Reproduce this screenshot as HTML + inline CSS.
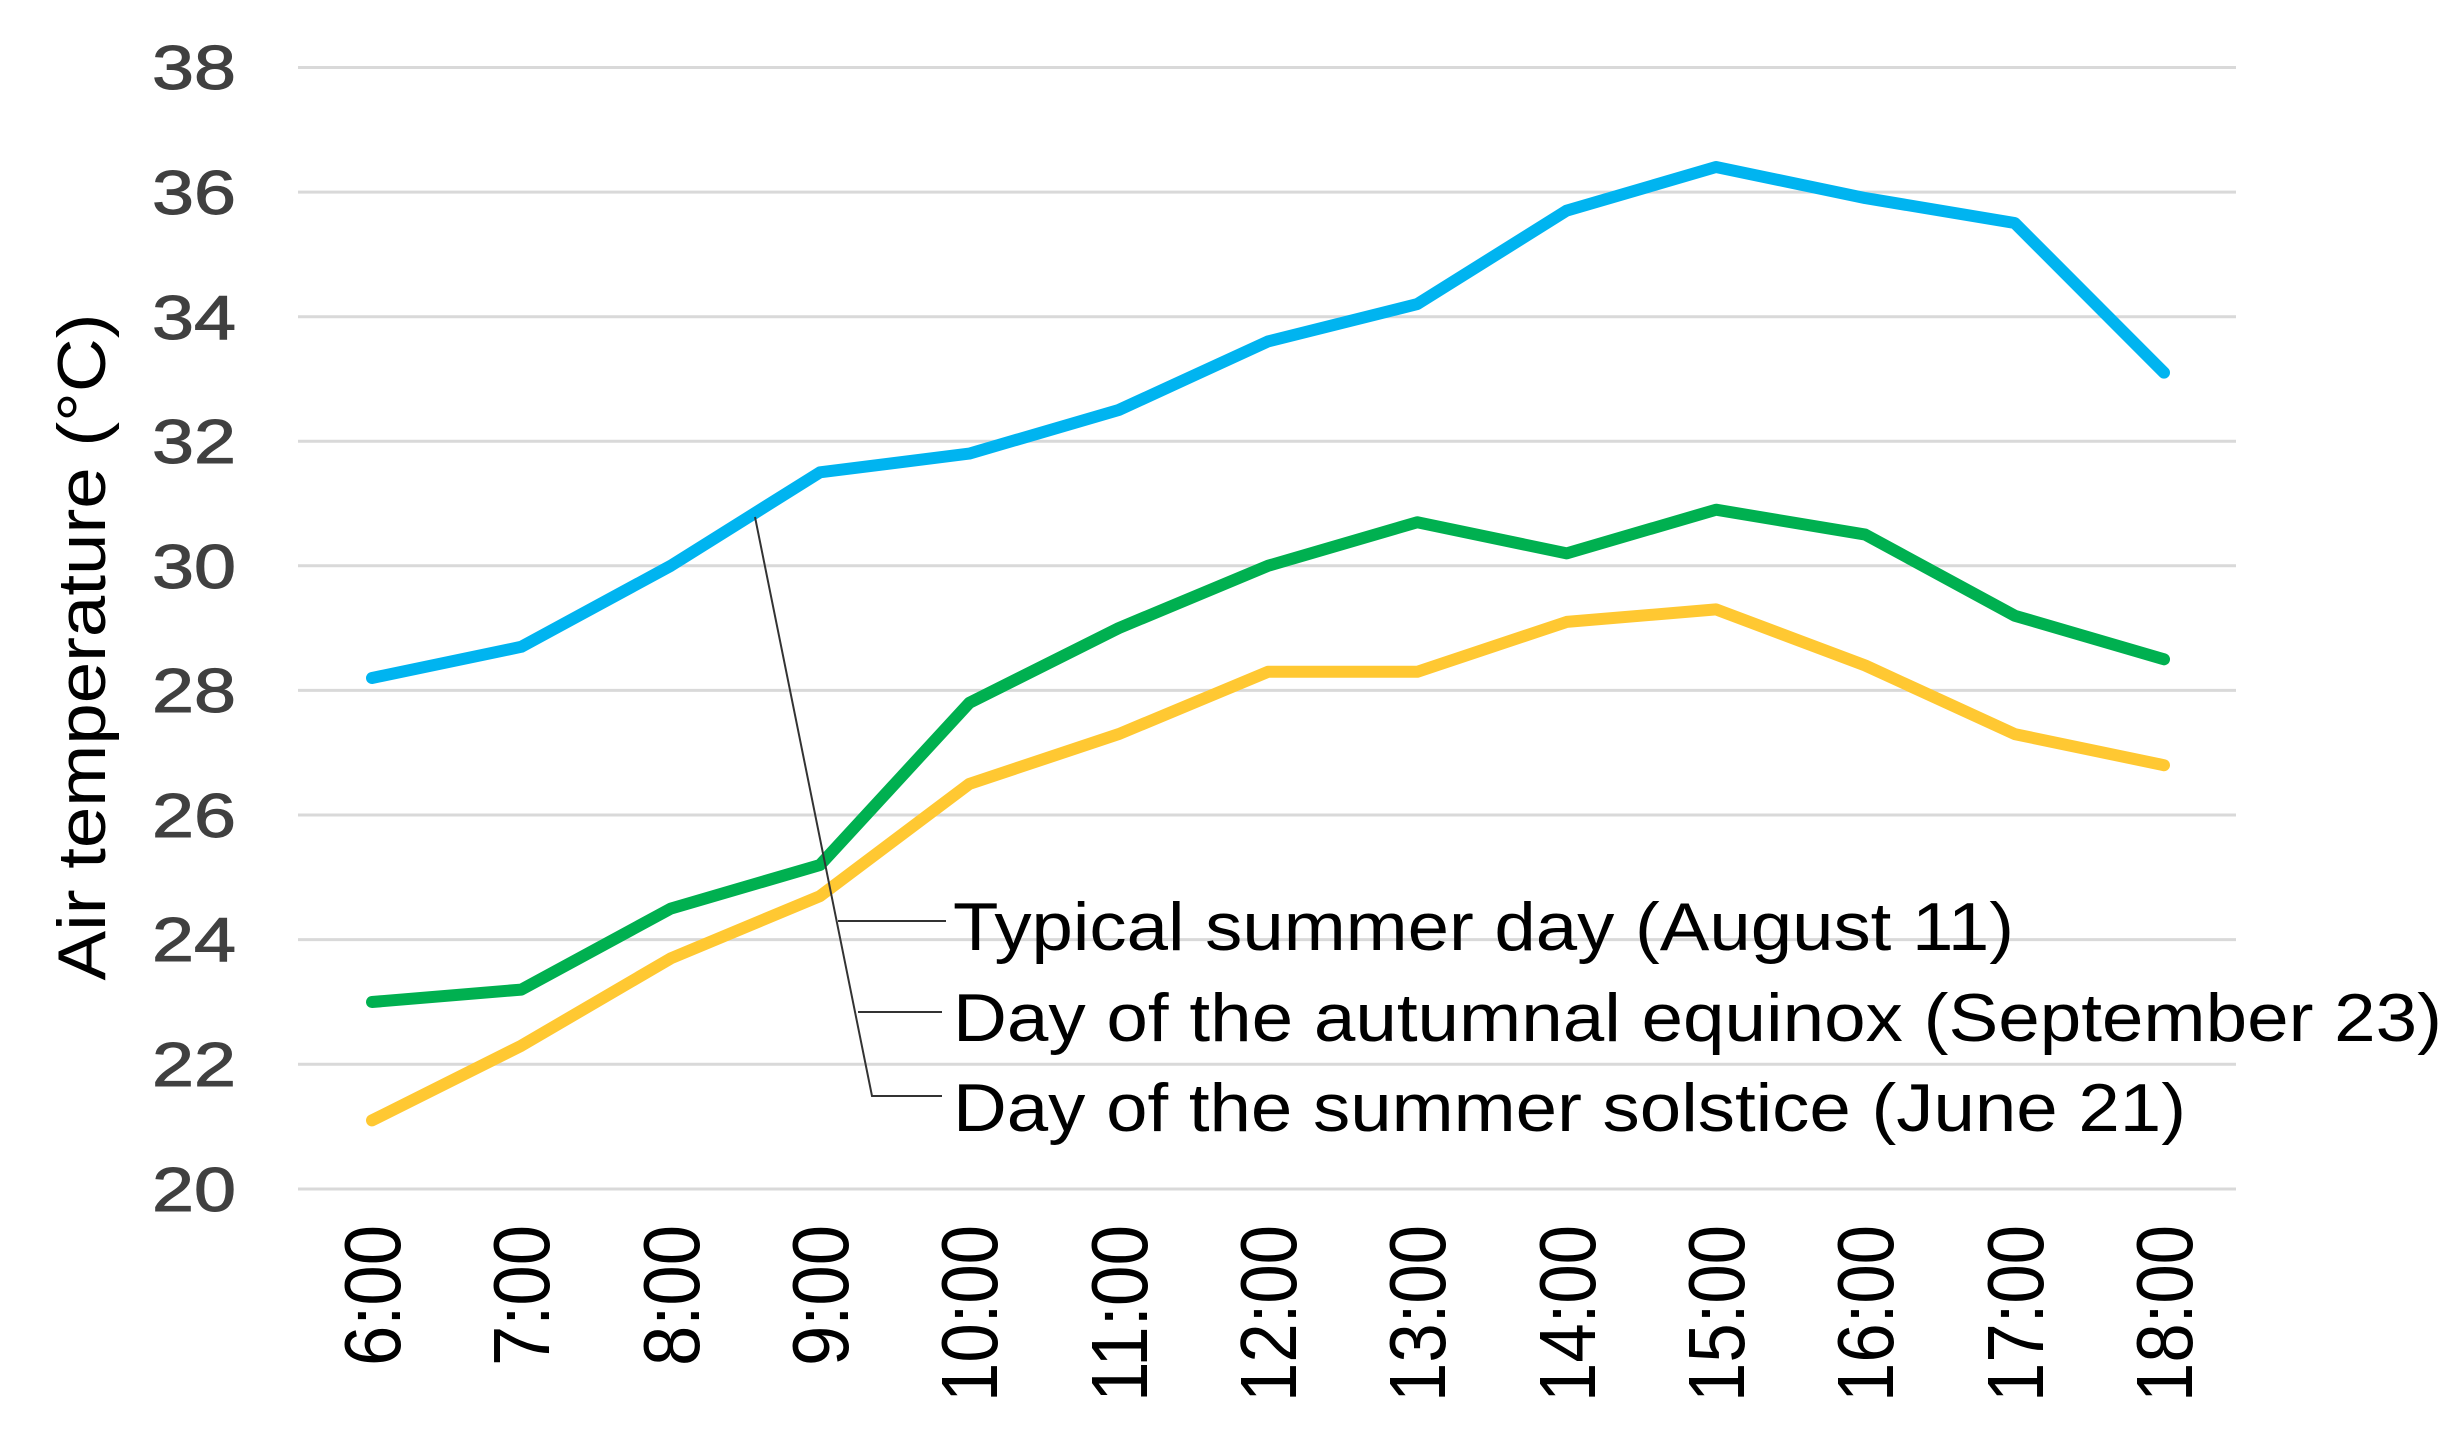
<!DOCTYPE html>
<html><head><meta charset="utf-8"><style>html,body{margin:0;padding:0;background:#fff}svg{display:block}</style></head>
<body>
<svg width="2462" height="1446" viewBox="0 0 2462 1446" xmlns="http://www.w3.org/2000/svg">
<rect width="2462" height="1446" fill="#fff"/>
<g stroke="#d9d9d9" stroke-width="3">
<line x1="298" x2="2236" y1="67.5" y2="67.5"/>
<line x1="298" x2="2236" y1="192.1" y2="192.1"/>
<line x1="298" x2="2236" y1="316.7" y2="316.7"/>
<line x1="298" x2="2236" y1="441.3" y2="441.3"/>
<line x1="298" x2="2236" y1="565.8" y2="565.8"/>
<line x1="298" x2="2236" y1="690.4" y2="690.4"/>
<line x1="298" x2="2236" y1="815" y2="815"/>
<line x1="298" x2="2236" y1="939.6" y2="939.6"/>
<line x1="298" x2="2236" y1="1064.2" y2="1064.2"/>
<line x1="298" x2="2236" y1="1189" y2="1189"/>
</g>
<g font-family="Liberation Sans, sans-serif" font-size="62" fill="#404040" text-anchor="end" stroke="#404040" stroke-width="1">
<text x="236" y="89" textLength="84" lengthAdjust="spacingAndGlyphs">38</text>
<text x="236" y="214" textLength="84" lengthAdjust="spacingAndGlyphs">36</text>
<text x="236" y="339" textLength="84" lengthAdjust="spacingAndGlyphs">34</text>
<text x="236" y="463" textLength="84" lengthAdjust="spacingAndGlyphs">32</text>
<text x="236" y="588" textLength="84" lengthAdjust="spacingAndGlyphs">30</text>
<text x="236" y="712" textLength="84" lengthAdjust="spacingAndGlyphs">28</text>
<text x="236" y="837" textLength="84" lengthAdjust="spacingAndGlyphs">26</text>
<text x="236" y="961" textLength="84" lengthAdjust="spacingAndGlyphs">24</text>
<text x="236" y="1086" textLength="84" lengthAdjust="spacingAndGlyphs">22</text>
<text x="236" y="1211" textLength="84" lengthAdjust="spacingAndGlyphs">20</text>
</g>
<text transform="translate(105,647) rotate(-90)" font-family="Liberation Sans, sans-serif" font-size="68" fill="#000" text-anchor="middle" textLength="667" lengthAdjust="spacingAndGlyphs">Air temperature (°C)</text>
<g font-family="Liberation Sans, sans-serif" font-size="80" fill="#000" text-anchor="end">
<text transform="translate(400,1225) rotate(-90)" textLength="141" lengthAdjust="spacingAndGlyphs">6:00</text>
<text transform="translate(549,1225) rotate(-90)" textLength="141" lengthAdjust="spacingAndGlyphs">7:00</text>
<text transform="translate(699,1225) rotate(-90)" textLength="141" lengthAdjust="spacingAndGlyphs">8:00</text>
<text transform="translate(848,1225) rotate(-90)" textLength="141" lengthAdjust="spacingAndGlyphs">9:00</text>
<text transform="translate(997,1225) rotate(-90)" textLength="177" lengthAdjust="spacingAndGlyphs">10:00</text>
<text transform="translate(1147,1225) rotate(-90)" textLength="177" lengthAdjust="spacingAndGlyphs">11:00</text>
<text transform="translate(1296,1225) rotate(-90)" textLength="177" lengthAdjust="spacingAndGlyphs">12:00</text>
<text transform="translate(1445,1225) rotate(-90)" textLength="177" lengthAdjust="spacingAndGlyphs">13:00</text>
<text transform="translate(1595,1225) rotate(-90)" textLength="177" lengthAdjust="spacingAndGlyphs">14:00</text>
<text transform="translate(1744,1225) rotate(-90)" textLength="177" lengthAdjust="spacingAndGlyphs">15:00</text>
<text transform="translate(1893,1225) rotate(-90)" textLength="177" lengthAdjust="spacingAndGlyphs">16:00</text>
<text transform="translate(2043,1225) rotate(-90)" textLength="177" lengthAdjust="spacingAndGlyphs">17:00</text>
<text transform="translate(2192,1225) rotate(-90)" textLength="177" lengthAdjust="spacingAndGlyphs">18:00</text>
</g>
<g fill="none" stroke-width="12" stroke-linejoin="round" stroke-linecap="round">
<polyline stroke="#FFC832" points="372,1120.4 521.3,1045.7 670.7,958.4 820,896.1 969.3,783.9 1118.7,734.1 1268,671.8 1417.3,671.8 1566.7,621.9 1716,609.4 1865.3,665.5 2014.7,734.1 2164,765.2"/>
<polyline stroke="#00B050" points="372,1002 521.3,989.6 670.7,908.6 820,865 969.3,702.9 1118.7,628.1 1268,565.8 1417.3,522.2 1566.7,553.4 1716,509.7 1865.3,534.6 2014.7,615.7 2164,659.3"/>
<polyline stroke="#00B4F0" points="372,678 521.3,646.8 670.7,565.8 820,472.3 969.3,453.6 1118.7,410 1268,341.4 1417.3,304.1 1566.7,210.6 1716,167 1865.3,198.1 2014.7,223 2164,372.6"/>
</g>
<g stroke="#333" stroke-width="2" fill="none">
<polyline points="755,517 872,1096 942,1096"/>
<line x1="838" y1="921" x2="946" y2="921"/>
<line x1="858" y1="1012" x2="942" y2="1012"/>
</g>
<g font-family="Liberation Sans Narrow, Liberation Sans, sans-serif" font-size="68" fill="#000">
<text x="953" y="950" textLength="1061" lengthAdjust="spacingAndGlyphs">Typical summer day (August 11)</text>
<text x="953" y="1041" textLength="1489" lengthAdjust="spacingAndGlyphs">Day of the autumnal equinox (September 23)</text>
<text x="953" y="1131" textLength="1233" lengthAdjust="spacingAndGlyphs">Day of the summer solstice (June 21)</text>
</g>
</svg>
</body></html>
